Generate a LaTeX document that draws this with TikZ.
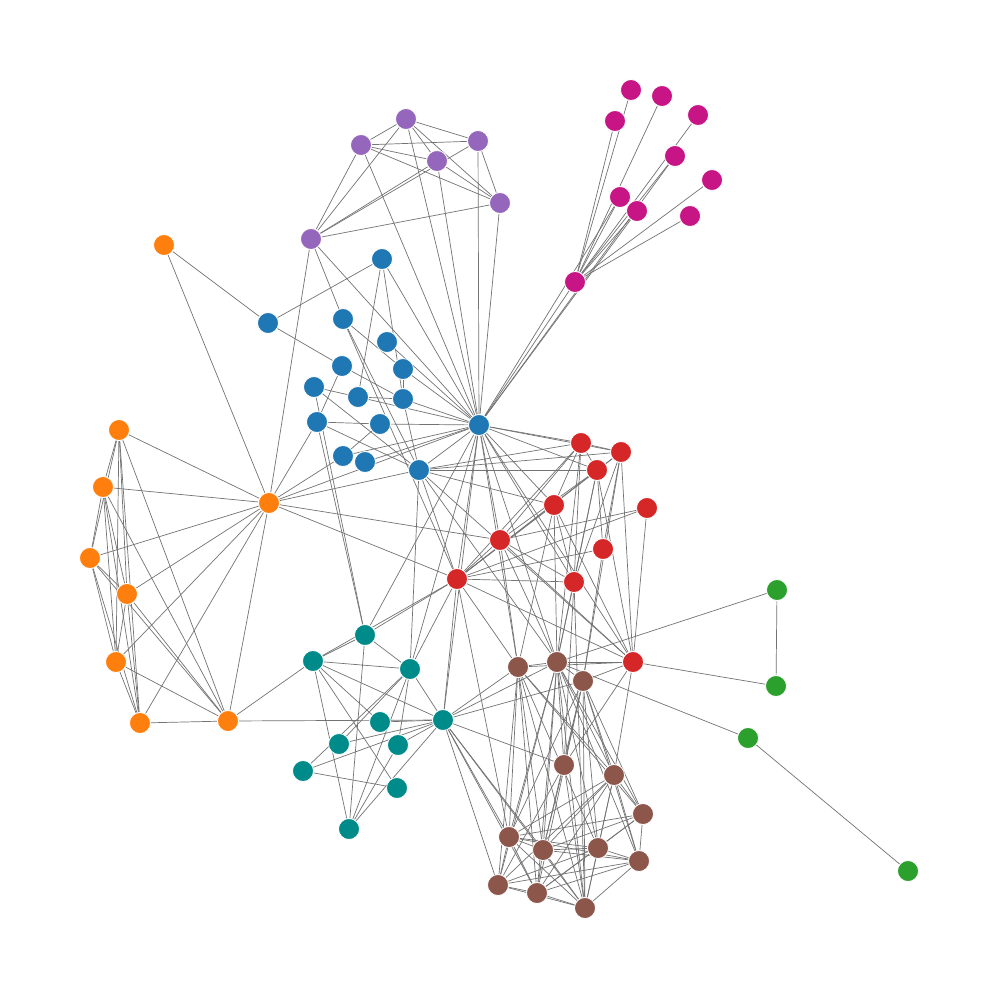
\documentclass[tikz,border=0pt]{standalone}
\usetikzlibrary{backgrounds}
\definecolor{cblue}{HTML}{1F77B4}
\definecolor{corange}{HTML}{FF7F0E}
\definecolor{cgreen}{HTML}{2CA02C}
\definecolor{cred}{HTML}{D62728}
\definecolor{cpurple}{HTML}{9467BD}
\definecolor{cbrown}{HTML}{8C564B}
\definecolor{cmag}{HTML}{C71585}
\definecolor{cteal}{HTML}{008B8B}
\tikzset{
  vtx/.style={circle,draw=white,line width=0.8pt,inner sep=0pt,minimum size=21pt},
  edge/.style={draw=black!55,line width=0.7pt}
}
\begin{document}
\begin{tikzpicture}[x=1pt,y=-1pt]
\useasboundingbox (0,0) rectangle (1000,1000);
% purple
\foreach \n/\x/\y in {P1/406/119,P2/361/145,P3/478/141,P4/437/161,P5/500/203,P6/311/239}
  \node[vtx,fill=cpurple] (\n) at (\x,\y) {};
% magenta
\foreach \n/\x/\y in {M1/631/90,M2/662/96,M3/615/121,M4/698/115,M5/675/156,M6/712/180,M7/620/197,M8/637/211,M9/690/216,M10/575/282}
  \node[vtx,fill=cmag] (\n) at (\x,\y) {};
% orange
\foreach \n/\x/\y in {O1/164/245,O2/119/430,O3/103/487,O4/90/558,O5/127/594,O6/116/662,O7/140/723,O8/228/721,O9/269/503}
  \node[vtx,fill=corange] (\n) at (\x,\y) {};
% blue
\foreach \n/\x/\y in {B1/382/259,B2/268/323,B3/343/319,B4/387/342,B5/342/366,B6/403/369,B7/314/387,B8/358/397,B9/403/399,B10/317/422,B11/380/424,B12/479/425,B13/343/456,B14/365/462,B15/419/470}
  \node[vtx,fill=cblue] (\n) at (\x,\y) {};
% red
\foreach \n/\x/\y in {R1/581/443,R2/621/452,R3/597/470,R4/554/505,R5/647/508,R6/500/540,R7/603/549,R8/457/579,R9/574/582,R10/633/662}
  \node[vtx,fill=cred] (\n) at (\x,\y) {};
% green
\foreach \n/\x/\y in {G1/777/590,G2/776/686,G3/748/738,G4/908/871}
  \node[vtx,fill=cgreen] (\n) at (\x,\y) {};
% teal
\foreach \n/\x/\y in {T1/365/635,T2/313/661,T3/410/669,T4/380/722,T5/443/720,T6/339/744,T7/398/745,T8/303/771,T9/397/788,T10/349/829}
  \node[vtx,fill=cteal] (\n) at (\x,\y) {};
% brown
\foreach \n/\x/\y in {N1/518/667,N2/557/662,N3/583/681,N4/564/765,N5/614/775,N6/643/814,N7/509/837,N8/543/850,N9/598/848,N10/639/861,N11/498/885,N12/537/893,N13/585/908}
  \node[vtx,fill=cbrown] (\n) at (\x,\y) {};
\begin{pgfonlayer}{background}
\fill[white] (0,0) rectangle (1000,1000);
% purple
\foreach \a/\b in {P1/P2,P1/P3,P1/P4,P1/P5,P1/P6,P2/P3,P2/P4,P2/P5,P2/P6,P3/P5,P3/P6,P4/P5,P4/P6,P5/P6,
  P1/B12,P2/B12,P3/B12,P4/B12,P5/B12,P6/B12,P6/B3,P6/O9}
  \draw[edge] (\a) -- (\b);
% magenta
\foreach \a/\b in {M1/M10,M2/M10,M3/M10,M4/M10,M5/M10,M6/M10,M7/M10,M8/M10,M9/M10,M10/B12,M7/B12,M8/B12,M5/B12}
  \draw[edge] (\a) -- (\b);
% orange
\foreach \a/\b in {O2/O3,O2/O4,O2/O5,O2/O6,O2/O7,O2/O8,O3/O4,O3/O5,O3/O6,O3/O7,O3/O8,O4/O5,O4/O6,O4/O7,O4/O8,
  O5/O6,O5/O7,O5/O8,O6/O7,O6/O8,O7/O8,O1/O9,O2/O9,O3/O9,O4/O9,O5/O9,O6/O9,O7/O9,O8/O9,O1/B2,O8/T2,O8/T5}
  \draw[edge] (\a) -- (\b);
% blue
\foreach \a/\b in {B1/B2,B1/B8,B1/B9,B1/B12,B2/B5,B3/B6,B3/B15,B3/R8,B4/B12,B5/B9,B5/B10,B6/B9,B6/B12,B7/B8,B7/B15,B7/T1,
  B8/B9,B8/B12,B9/B12,B9/B15,B10/B11,B10/B15,B10/T1,B10/O9,B11/B12,B11/B13,B12/B13,B12/B14,B12/B15,B13/O9,B12/O9,B15/O9,
  B12/R1,B12/R2,B12/R3,B12/R4,B12/R6,B12/R8,B12/R9,B12/R10,B15/R1,B15/R2,B15/R3,B15/R4,B15/R8,B15/R10,
  B12/N1,B12/N2,B12/T1,B12/T5,B12/T3,B15/T3,B15/N2,O9/R8,O9/R6}
  \draw[edge] (\a) -- (\b);
% red
\foreach \a/\b in {R1/R2,R1/R3,R1/R4,R1/R8,R1/R9,R1/R6,R2/R3,R2/R8,R2/R7,R2/R9,R2/R10,R3/R6,R3/R8,R3/R9,R3/R10,R3/R7,
  R4/R8,R4/R9,R4/R10,R5/R6,R5/R8,R5/R10,R6/R8,R6/R9,R6/R10,R7/R8,R8/R9,R8/R10,
  R8/T1,R8/T2,R8/T5,R8/T3,R8/N1,R8/N7,R6/N1,R6/N2,R4/N1,R4/N2,R9/N2,R9/N4,R9/N13,R3/N2,R1/N2,R7/N3,R2/N3,
  R10/N1,R10/N2,R10/N3,R10/N4,R10/N5,R10/G2}
  \draw[edge] (\a) -- (\b);
% green
\foreach \a/\b in {G1/G2,G1/N2,G3/N2,G3/G4}
  \draw[edge] (\a) -- (\b);
% teal
\foreach \a/\b in {T1/T2,T1/T3,T1/T10,T2/T3,T2/T4,T2/T5,T2/T9,T2/T10,T3/T5,T3/T6,T3/T7,T3/T10,T4/T5,T5/T6,T5/T7,T5/T8,
  T5/T10,T7/T10,T8/T9,T8/T3,T5/N1,T5/N2,T5/N3,T5/N4,T5/N7,T5/N8,T5/N11,T5/N12,T5/N13}
  \draw[edge] (\a) -- (\b);
% brown
\foreach \a/\b in {N1/N2,N2/N3,N1/N7,N1/N8,N1/N9,N1/N11,N1/N12,N1/N13,N1/N5,N1/N6,
  N2/N4,N2/N5,N2/N6,N2/N7,N2/N8,N2/N9,N2/N10,N2/N11,N2/N12,N2/N13,
  N3/N4,N3/N5,N3/N6,N3/N7,N3/N8,N3/N9,N3/N10,N3/N12,N3/N13,
  N4/N8,N4/N11,N4/N13,N5/N6,N5/N7,N5/N8,N5/N9,N5/N10,N5/N11,N5/N12,N5/N13,
  N6/N7,N6/N8,N6/N9,N6/N10,N6/N12,N7/N8,N7/N9,N7/N10,N7/N11,N7/N12,N7/N13,
  N8/N9,N8/N10,N8/N12,N8/N13,N9/N10,N9/N11,N9/N12,N9/N13,N10/N11,N10/N12,N10/N13,N11/N12,N11/N13,N12/N13}
  \draw[edge] (\a) -- (\b);
\end{pgfonlayer}
\end{tikzpicture}
\end{document}
